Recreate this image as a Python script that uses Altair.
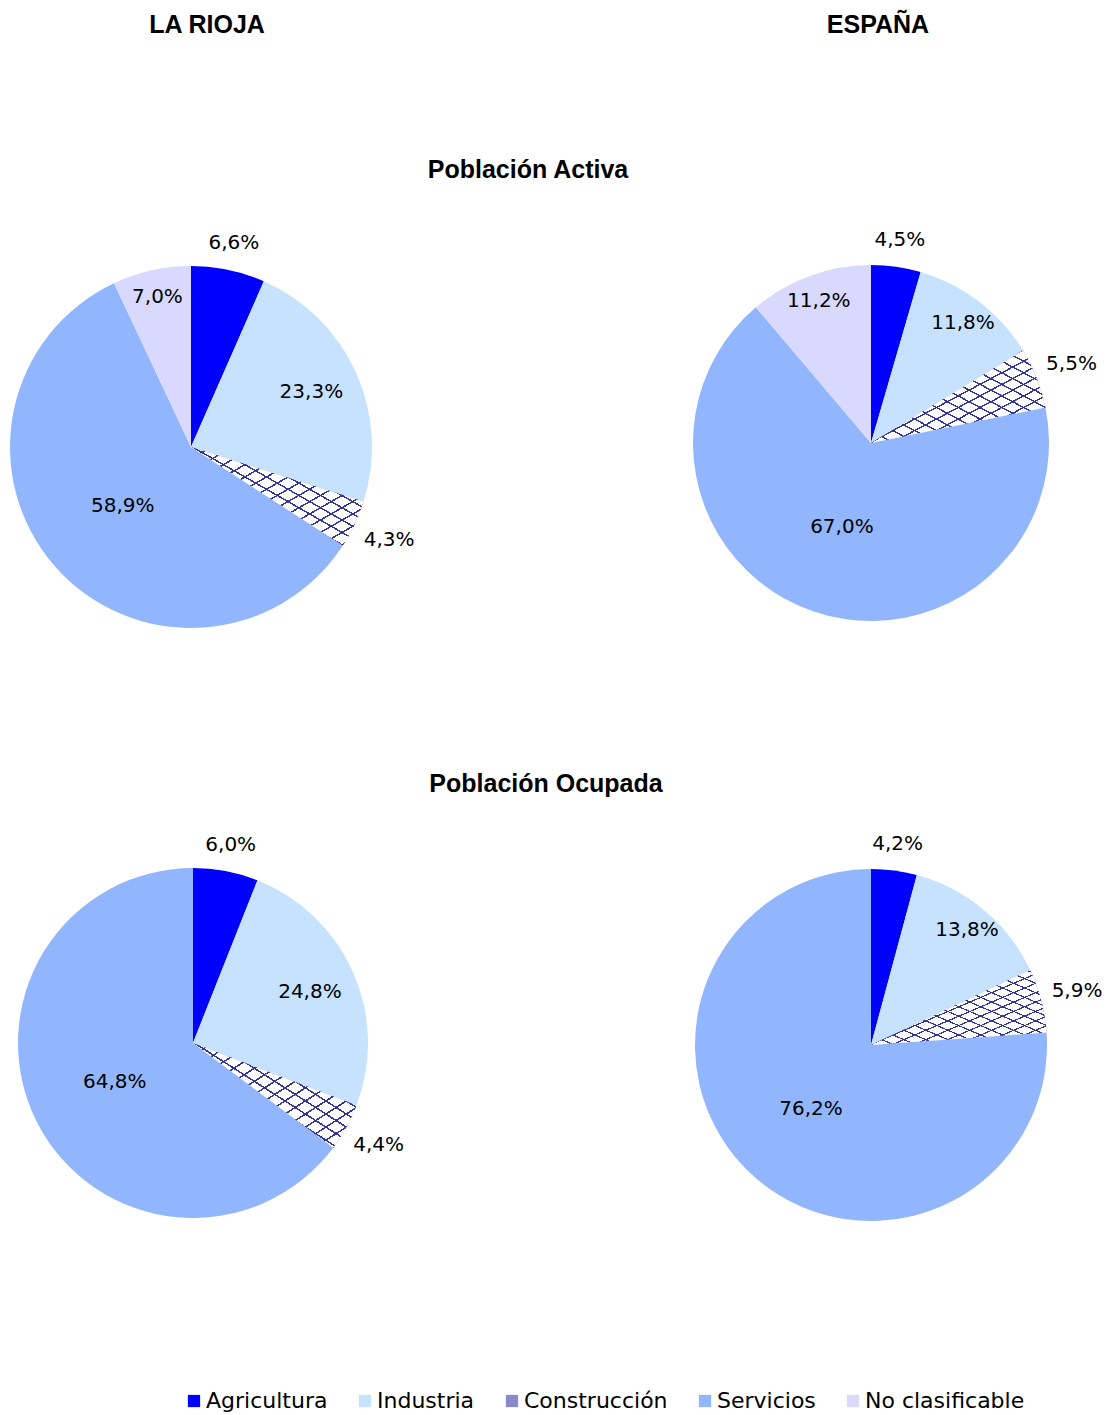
import altair as alt
import pandas as pd

# ---------------- data ----------------
sectors = ["Agricultura", "Industria", "Construcción", "Servicios", "No clasificable"]
regions = ["LA RIOJA", "ESPAÑA"]
measures = ["Población Activa", "Población Ocupada"]

la_rioja_activa = [6.6, 23.3, 4.3, 58.9, 7.0]
espana_activa = [4.5, 11.8, 5.5, 67.0, 11.2]
la_rioja_ocupada = [6.0, 24.8, 4.4, 64.8, 0.0]
espana_ocupada = [4.2, 13.8, 5.9, 76.2, 0.0]

sector_colors = ["#0000ff", "#c7e2ff", "#8a8ac8", "#92b6fd", "#d9d9ff"]

FONT = "DejaVu Sans"
TITLE_FONT = "Liberation Sans"

series = [("LR_A", la_rioja_activa), ("ES_A", espana_activa),
          ("LR_O", la_rioja_ocupada), ("ES_O", espana_ocupada)]
rows = []
for key, vals in series:
    for i, (s, v) in enumerate(zip(sectors, vals)):
        if v > 0:
            rows.append({"panel": key, "sector": s, "order": i, "value": v})
df = pd.DataFrame(rows)

# layout: pie centre (x, y) and radius, in plot coordinates
layout = {
    "LR_A": (183, 439, 181),
    "ES_A": (863, 435, 178),
    "LR_O": (185, 1035, 175),
    "ES_O": (863, 1037, 176),
}

W, H = 1094, 1407


def stripes(x1, y1, x2, y2, bg, line="#34349e", n=16, w=0.14):
    stops = []
    for i in range(n):
        a = i / n
        m = (i + 1 - w) / n
        b = (i + 1) / n
        stops += [
            {"offset": a, "color": bg},
            {"offset": m, "color": bg},
            {"offset": m + 0.0001, "color": line},
            {"offset": b - 0.0001, "color": line},
        ]
    return {"gradient": "linear", "x1": x1, "y1": y1, "x2": x2, "y2": y2, "stops": stops}


grad1 = stripes(0, 0, 1, 1, "#ffffff")
grad2 = stripes(1, 0, 0, 1, "rgba(255,255,255,0)")

color_scale = alt.Scale(domain=sectors, range=sector_colors)

base = alt.Chart(df)
layers = []
for key, (cx, cy, R) in layout.items():
    p = (
        base.transform_filter(alt.datum.panel == key)
        .transform_joinaggregate(total="sum(value)")
        .transform_window(cum="sum(value)", sort=[alt.SortField("order")], frame=[None, 0])
        .transform_calculate(
            t1="2*PI*datum.cum/datum.total",
            t0="2*PI*(datum.cum-datum.value)/datum.total",
        )
        .transform_calculate(
            tm="(datum.t0+datum.t1)/2",
            lr=f"{R}*(datum.value < 7 ? (datum.sector == 'Construcción' ? 1.21 : 1.15)"
               f" : datum.value > 50 ? 0.5 : datum.value > 20 ? 0.73 : 0.85)",
            label="replace(format(datum.value, '.1f'), '.', ',') + '%'",
        )
    )
    enc = dict(
        x=alt.value(cx), y=alt.value(cy),
        theta=alt.Theta("t0:Q", scale=None, stack=None),
        theta2=alt.Theta2("t1:Q"),
    )
    arcs = p.mark_arc(radius=R, stroke=None).encode(
        color=alt.Color("sector:N", scale=color_scale, sort=sectors,
                        legend=alt.Legend(title=None)),
        **enc,
    )
    constr = p.transform_filter(alt.datum.sector == "Construcción")
    pat1 = constr.mark_arc(radius=R, fill=grad1).encode(**enc)
    pat2 = constr.mark_arc(radius=R, fill=grad2).encode(**enc)
    labels = p.mark_text(
        font=FONT, fontSize=20, color="#000000", align="center", baseline="middle"
    ).encode(
        x=alt.value(cx), y=alt.value(cy),
        theta=alt.Theta("tm:Q", scale=None, stack=None),
        radius=alt.Radius("lr:Q", scale=None),
        text="label:N",
    )
    layers += [arcs, pat1, pat2, labels]

# titles
reg_df = pd.DataFrame({"t": regions})
mea_df = pd.DataFrame({"t": measures})


def title(dframe, txt, x, y, size):
    return (
        alt.Chart(dframe).transform_filter(alt.datum.t == txt)
        .mark_text(font=TITLE_FONT, fontSize=size, fontWeight="bold",
                   align="center", baseline="middle", color="#000")
        .encode(text="t:N", x=alt.value(x), y=alt.value(y))
    )


titles = [
    title(reg_df, regions[0], 199, 17, 25),
    title(reg_df, regions[1], 870, 17, 25),
    title(mea_df, measures[0], 520, 162, 25),
    title(mea_df, measures[1], 538, 776, 25),
]

chart = (
    alt.layer(*layers, *titles)
    .properties(width=W, height=H, padding=0, autosize=alt.AutoSizeParams(type="none"))
    .configure_view(stroke=None)
    .configure_legend(
        orient="none",
        legendX=175,
        legendY=1382,
        direction="horizontal",
        columns=5,
        symbolType="square",
        symbolSize=150,
        symbolStrokeWidth=0,
        labelFont=FONT,
        labelFontSize=22,
        labelColor="#000000",
        labelOffset=1,
        columnPadding=26,
        labelLimit=300,
    )
)

chart.save("out.html", embed_options={"renderer": "svg", "actions": False})
